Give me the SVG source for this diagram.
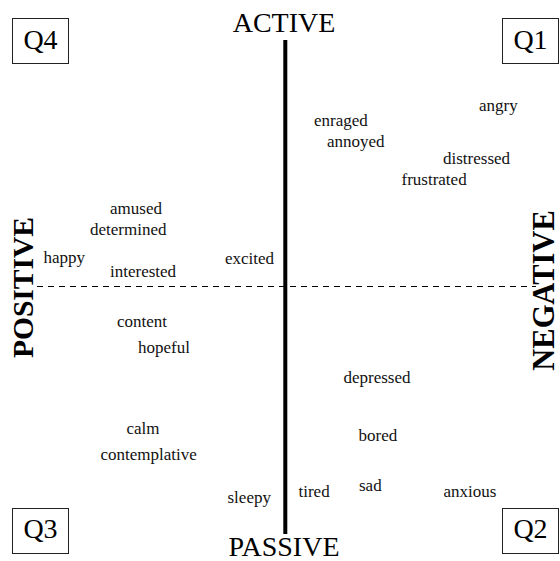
<svg xmlns="http://www.w3.org/2000/svg" width="560" height="561" viewBox="0 0 560 561">
  <style>
    text { font-family: "Liberation Serif", "Times New Roman", serif; fill: #000; }
    .head { font-size: 28px; text-anchor: middle; }
    .side { font-weight: bold; text-anchor: middle; }
    .word { font-size: 17px; fill: #111; }
    .qbox { fill: #fff; stroke: #222; stroke-width: 1; }
    .q { font-size: 28px; text-anchor: middle; }
  </style>
  <rect width="560" height="561" fill="#fff"/>

  <!-- axes -->
  <g id="axes">
    <line x1="37" y1="286.5" x2="536" y2="286.5" stroke="#000" stroke-width="1" stroke-dasharray="6 5"/>
    <line x1="285.3" y1="40" x2="285.3" y2="534" stroke="#000" stroke-width="4"/>
  </g>

  <!-- axis labels -->
  <g id="axis-labels">
    <text class="head" x="284" y="556">PASSIVE</text>
    <text class="head" x="284" y="32">ACTIVE</text>
    <text class="side" font-size="29.5" transform="translate(33,287.5) rotate(-90)">POSITIVE</text>
    <text class="side" font-size="30.5" transform="translate(554,290.5) rotate(-90)">NEGATIVE</text>
  </g>

  <!-- quadrant tags -->
  <g id="Q4"><rect class="qbox" x="12.5" y="18.5" width="56" height="45"/><text class="q" x="40.5" y="49">Q4</text></g>
  <g id="Q1"><rect class="qbox" x="502.5" y="18.5" width="56" height="45"/><text class="q" x="530.5" y="49">Q1</text></g>
  <g id="Q3"><rect class="qbox" x="12.5" y="508.5" width="56" height="45"/><text class="q" x="40.5" y="538">Q3</text></g>
  <g id="Q2"><rect class="qbox" x="502.5" y="508.5" width="56" height="45"/><text class="q" x="530.5" y="538">Q2</text></g>

  <!-- emotion words -->
  <g id="words">
    <text class="word" x="479" y="111">angry</text>
    <text class="word" x="314" y="126">enraged</text>
    <text class="word" x="327" y="147">annoyed</text>
    <text class="word" x="443" y="164">distressed</text>
    <text class="word" x="401.5" y="185">frustrated</text>
    <text class="word" x="110" y="214">amused</text>
    <text class="word" x="90" y="235">determined</text>
    <text class="word" x="43.5" y="262.5">happy</text>
    <text class="word" x="110" y="277">interested</text>
    <text class="word" x="225" y="264">excited</text>
    <text class="word" x="117" y="326.5">content</text>
    <text class="word" x="138" y="353">hopeful</text>
    <text class="word" x="343.5" y="382.5">depressed</text>
    <text class="word" x="126.5" y="433.5">calm</text>
    <text class="word" x="100.5" y="460">contemplative</text>
    <text class="word" x="358.5" y="440.5">bored</text>
    <text class="word" x="359" y="490.5">sad</text>
    <text class="word" x="227.5" y="503">sleepy</text>
    <text class="word" x="298.5" y="497">tired</text>
    <text class="word" x="443.5" y="497">anxious</text>
  </g>
</svg>
